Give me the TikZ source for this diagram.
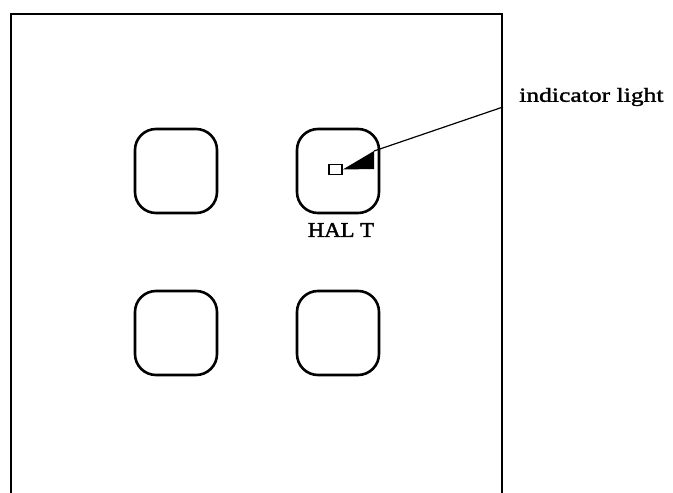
\documentclass[tikz,border=0pt]{standalone}
\usepackage{fontspec}
\setmainfont{Liberation Serif}
\newfontfamily\panelfont{Liberation Serif}[FakeStretch=1.28,FakeBold=1.5]
\newfontfamily\haltfont{Liberation Serif}[FakeStretch=1.08,FakeBold=1.8]
\begin{document}
\begin{tikzpicture}[x=1pt,y=-1pt,
  panel/.style={line width=2pt},
  button/.style={draw,line width=2.6pt,rounded corners=21pt,
    minimum width=82pt,minimum height=84pt,inner sep=0pt},
  lamp/.style={draw,line width=1.6pt,minimum width=13pt,minimum height=10pt,inner sep=0pt},
  pointer/.style={line width=1.2pt}]
\useasboundingbox (0,0) rectangle (673,493);
% housing, open at the bottom
\draw[panel] (11,493) -- (11,14) -- (502,14) -- (502,493);
% the four push buttons
\node[button] (b1) at (176,171) {};
\node[button] (b2) at (338,171) {};
\node[button] (b3) at (176,333) {};
\node[button] (b4) at (338,333) {};
% indicator light on the HALT button
\node[lamp] (light) at (335.5,169.5) {};
\node[font=\haltfont\fontsize{21}{21}\selectfont] (halt) at (341,230) {HAL T};
% callout
\node[anchor=west,font=\panelfont\fontsize{20}{20}\selectfont,inner sep=0pt] (lbl) at (519,97) {indicator light};
\coordinate (hook) at (503,107);
\coordinate (tip) at (light.east);
\coordinate (barb) at (374,151);
\draw[pointer] (hook) -- (barb);
\fill (tip) -- (barb) -- (374,169) -- cycle;
\end{tikzpicture}
\end{document}
